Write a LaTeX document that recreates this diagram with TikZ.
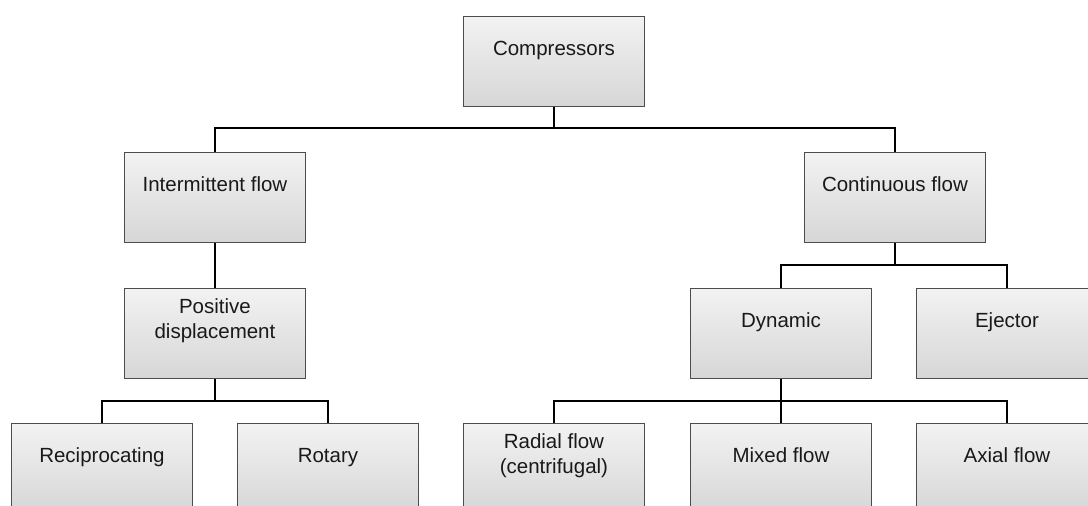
\documentclass[tikz,border=0pt]{standalone}
\usepackage{fontspec}
\setmainfont{Liberation Sans}
\begin{document}
\begin{tikzpicture}[x=1pt,y=-1pt,
  boxbase/.style={draw=black!70, line width=0.9pt, top color=black!5, bottom color=black!16,
    minimum width=181pt, minimum height=90pt, inner sep=0pt, anchor=north west},
  cbox/.style={boxbase,
    label={[anchor=center,yshift=-34pt,text height=15pt,text depth=4.5pt,text=black!90,
      font=\fontsize{20.5}{24.5}\selectfont]north:#1}},
  tbox/.style={boxbase,
    label={[anchor=center,yshift=-32.5pt,align=center,text=black!90,
      font=\fontsize{20.5}{24.5}\selectfont]north:#1}},
  conn/.style={draw=black, line width=2.6pt}]
\useasboundingbox (0,0) rectangle (1088,506);
\clip (0,0) rectangle (1088,506);
\node[cbox={Compressors}] (comp) at (463,16) {};
\node[cbox={Intermittent flow}] (inter) at (124,152) {};
\node[cbox={Continuous flow}] (cont) at (804,152) {};
\node[tbox={Positive\\displacement}] (pos) at (124,288) {};
\node[cbox={Dynamic}] (dyn) at (690,288) {};
\node[cbox={Ejector}] (ej) at (916,288) {};
\node[cbox={Reciprocating}] (rec) at (11,423) {};
\node[cbox={Rotary}] (rot) at (237,423) {};
\node[tbox={Radial flow\\(centrifugal)}] (rad) at (463,423) {};
\node[cbox={Mixed flow}] (mix) at (690,423) {};
\node[cbox={Axial flow}] (ax) at (916,423) {};
\coordinate (j1) at (comp.south |- 0,128);
\coordinate (j2) at (pos.south |- 0,401);
\coordinate (j3) at (cont.south |- 0,265);
\coordinate (j4) at (dyn.south |- 0,401);
\draw[conn] (comp.south) -- (j1);
\draw[conn] (inter.north) |- (j1) -| (cont.north);
\draw[conn] (inter.south) -- (pos.north);
\draw[conn] (pos.south) -- (j2);
\draw[conn] (rec.north) |- (j2) -| (rot.north);
\draw[conn] (cont.south) -- (j3);
\draw[conn] (dyn.north) |- (j3) -| (ej.north);
\draw[conn] (dyn.south) -- (j4);
\draw[conn] (rad.north) |- (j4) -| (ax.north);
\draw[conn] (mix.north) -- (mix.north |- j4);
\end{tikzpicture}
\end{document}
